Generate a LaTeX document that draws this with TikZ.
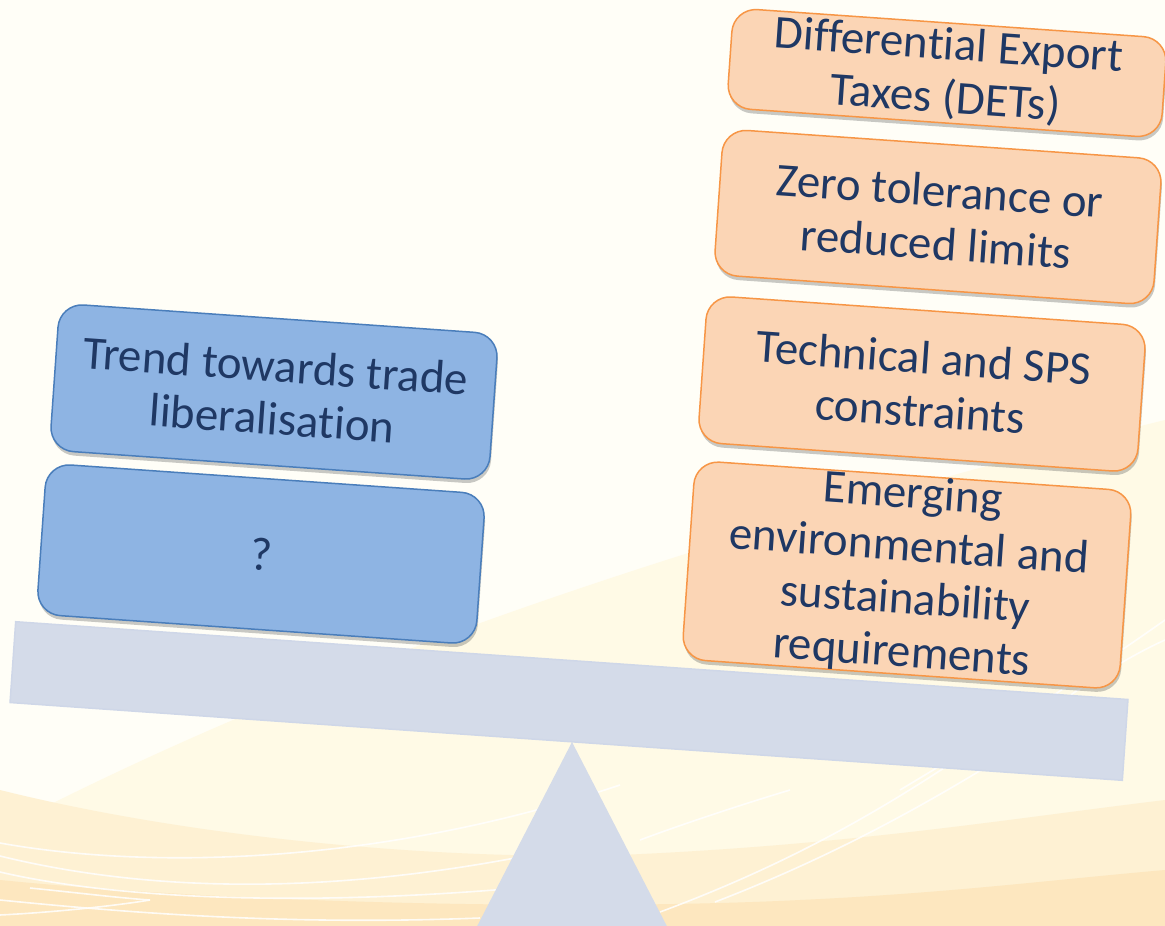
\documentclass[tikz,border=0pt]{standalone}
\usepackage{fontspec}
\setmainfont{Carlito}[Ligatures=NoCommon]
\usetikzlibrary{shadows}
\definecolor{txt}{HTML}{1F3864}
\definecolor{bfill}{HTML}{8EB4E3}
\definecolor{bline}{HTML}{4A7EBB}
\definecolor{ofill}{HTML}{FBD5B5}
\definecolor{oline}{HTML}{F79646}
\definecolor{beamfill}{HTML}{D4DBE9}
\definecolor{beamline}{HTML}{CFD7E8}
\definecolor{bgA}{HTML}{FFFEF7}
\definecolor{bgB}{HTML}{FFFAE6}
\definecolor{bgC}{HTML}{FEF1D3}
\definecolor{bgD}{HTML}{FDE7BF}
\begin{document}
\begin{tikzpicture}[x=1pt,y=-1pt,
  boxbase/.style={rounded corners=24pt, rotate=-4, line width=1.5pt, align=center,
    text=txt, font=\fontsize{47}{53}\selectfont, inner sep=0pt,
    minimum width=440pt,
    drop shadow={shadow xshift=1pt, shadow yshift=-4pt, opacity=0.3, fill=black!70}},
  bluebox/.style={boxbase, fill=bfill, draw=bline},
  orangebox/.style={boxbase, fill=ofill, draw=oline},
  swoosh/.style={draw=white, line width=1.6pt, opacity=0.85},
  beamstyle/.style={fill=beamfill, draw=beamline, line width=1.5pt}
]
\useasboundingbox (0,0) rectangle (1165,926);
\begin{scope}
\clip (0,0) rectangle (1165,926);
% background
\fill[bgA] (0,0) rectangle (1165,926);
\fill[bgB] (0,830) .. controls (250,700) and (600,560) .. (1165,420) -- (1165,926) -- (0,926) -- cycle;
\fill[bgC] (0,790) .. controls (200,840) and (450,860) .. (620,855) .. controls (850,845) and (1000,820) .. (1165,800) -- (1165,926) -- (0,926) -- cycle;
\fill[bgD] (0,880) .. controls (250,905) and (600,910) .. (800,900) .. controls (950,893) and (1050,880) .. (1165,870) -- (1165,926) -- (0,926) -- cycle;
% white swooshes
\draw[swoosh] (0,843) .. controls (150,870) and (380,865) .. (620,785);
\draw[swoosh] (0,856) .. controls (200,905) and (420,885) .. (620,835);
\draw[swoosh] (0,872) .. controls (120,900) and (330,910) .. (600,880);
\draw[swoosh] (30,888) .. controls (80,893) and (120,898) .. (150,900);
\draw[swoosh] (0,900) .. controls (150,915) and (300,925) .. (480,918);
\draw[swoosh] (0,915) .. controls (60,912) and (120,905) .. (150,900);
\draw[swoosh] (660,912) .. controls (800,860) and (900,800) .. (1000,730);
\draw[swoosh] (715,902) .. controls (850,850) and (950,790) .. (1030,740);
\draw[swoosh] (640,840) .. controls (680,825) and (740,805) .. (790,790);
\draw[swoosh] (900,790) .. controls (1000,730) and (1080,680) .. (1165,620);
\draw[swoosh] (980,760) .. controls (1060,700) and (1120,660) .. (1165,640);
\end{scope}
% fulcrum and beam
\coordinate (apex) at (572,742);
\fill[beamfill] (apex) -- (674,940) -- (470,940) -- cycle;
\node[beamstyle, rotate=-4, minimum width=1115pt, minimum height=81pt] (beam) at (569,701) {};
% left boxes
\node[bluebox, minimum height=147pt] (trend) at (274,392) {Trend towards trade\\liberalisation};
\node[bluebox, minimum height=151pt] (q) at (261,554) {?};
% right boxes
\node[orangebox, minimum width=435pt, minimum height=100pt] (det) at (947,73) {Differential Export\\Taxes (DETs)};
\node[orangebox, minimum height=146pt] (zero) at (938,217) {Zero tolerance or\\reduced limits};
\node[orangebox, minimum height=147pt] (tech) at (922,384) {Technical and SPS\\constraints};
\node[orangebox, minimum width=438pt, minimum height=193pt] (env) at (907,575) {Emerging\\environmental and\\sustainability\\requirements};
\end{tikzpicture}
\end{document}
